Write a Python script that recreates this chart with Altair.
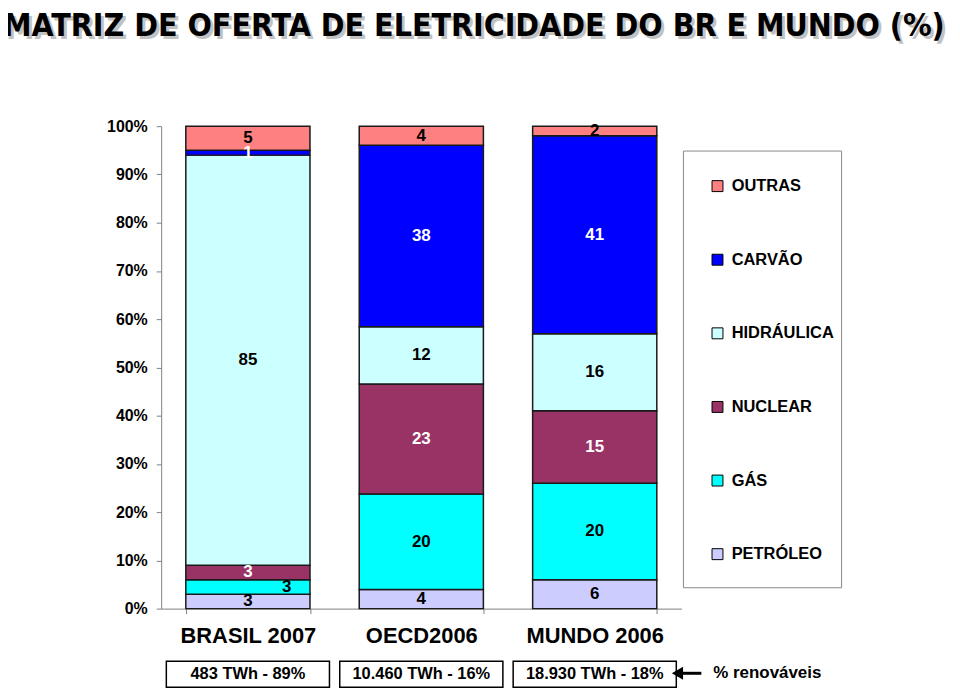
import altair as alt
import pandas as pd

categories = ["BRASIL 2007", "OECD2006", "MUNDO 2006"]
sources = ["PETRÓLEO", "GÁS", "NUCLEAR", "HIDRÁULICA", "CARVÃO", "OUTRAS"]
brasil = [3, 3, 3, 85, 1, 5]
oecd = [4, 20, 23, 12, 38, 4]
mundo = [6, 20, 15, 16, 41, 2]
totals = ["483 TWh - 89%", "10.460 TWh - 16%", "18.930 TWh - 18%"]
legend_order = ["OUTRAS", "CARVÃO", "HIDRÁULICA", "NUCLEAR", "GÁS", "PETRÓLEO"]
legend_colors = ["#FF8080", "#0000FF", "#CCFFFF", "#993366", "#00FFFF", "#CCCCFF"]
title_text = "MATRIZ DE OFERTA DE ELETRICIDADE DO BR E MUNDO (%)"
note_text = "% renováveis"

FONT = "Liberation Sans"
TFONT = "DejaVu Sans Condensed"

rows = []
for cat, vals in zip(categories, [brasil, oecd, mundo]):
    for i, (s, v) in enumerate(zip(sources, vals)):
        rows.append({"cat": cat, "src": s, "val": v, "ord": i})
df = pd.DataFrame(rows)

xenc = alt.X(
    "cat:N",
    sort=categories,
    scale=alt.Scale(paddingInner=0.284, paddingOuter=0.142),
    axis=alt.Axis(
        title=None, labelAngle=0, tickBand="extent", domainColor="#808080",
        tickColor="#808080", tickSize=5, labelFont=FONT, labelFontSize=22,
        labelFontWeight="bold", labelColor="black", labelPadding=12,
    ),
)

base = alt.Chart(df).transform_stack(
    stack="val", groupby=["cat"], as_=["y0", "y1"], offset="normalize",
    sort=[alt.SortField("ord", order="ascending")],
).transform_calculate(mid="(datum.y0 + datum.y1) / 2")

yscale = alt.Scale(domain=[0, 1], nice=False)
yaxis = alt.Axis(
    title=None, format="%", values=[i / 10 for i in range(11)], grid=False,
    domainColor="#808080", tickColor="#808080", tickSize=5, labelFont=FONT,
    labelFontSize=16, labelFontWeight="bold", labelColor="black", labelPadding=9,
)

bars = base.mark_bar(stroke="#1a1a1a", strokeWidth=1.5).encode(
    x=xenc,
    y=alt.Y("y0:Q", scale=yscale, axis=yaxis),
    y2="y1:Q",
    color=alt.Color(
        "src:N",
        scale=alt.Scale(domain=legend_order, range=legend_colors),
        legend=alt.Legend(
            title=None, orient="none", legendX=551, legendY=52, direction="vertical",
            symbolType="square", symbolSize=121, symbolStrokeColor="black",
            symbolStrokeWidth=1, labelFont=FONT, labelFontSize=16.5,
            labelFontWeight="bold", labelColor="black", rowPadding=57,
            labelOffset=6, padding=0,
        ),
    ),
)

txtcolor = alt.condition(
    alt.FieldOneOfPredicate(field="src", oneOf=["CARVÃO", "NUCLEAR"]),
    alt.value("white"), alt.value("black"),
)

labels = base.transform_filter(
    "!(datum.cat == 'BRASIL 2007' && datum.src == 'GÁS')"
).mark_text(font=FONT, fontSize=17, fontWeight="bold").encode(
    x=alt.X("cat:N", sort=categories),
    y=alt.Y("mid:Q", scale=yscale),
    text=alt.Text("val:Q"),
    color=txtcolor,
)

labels_shift = base.transform_filter(
    "datum.cat == 'BRASIL 2007' && datum.src == 'GÁS'"
).mark_text(font=FONT, fontSize=17, fontWeight="bold", dx=39).encode(
    x=alt.X("cat:N", sort=categories),
    y=alt.Y("mid:Q", scale=yscale),
    text=alt.Text("val:Q"),
    color=txtcolor,
)

legend_box = alt.Chart(pd.DataFrame({"a": [0]})).mark_rect(
    fill="white", stroke="#888888", strokeWidth=1
).encode(x=alt.value(525), x2=alt.value(684), y=alt.value(25), y2=alt.value(464))

tdf = pd.DataFrame({"cat": categories, "label": totals})
boxes = alt.Chart(tdf).mark_bar(width=164, fill="white", stroke="black", strokeWidth=1.5).encode(
    x=alt.X("cat:N", sort=categories), y=alt.value(538), y2=alt.value(564)
)
box_text = alt.Chart(tdf).mark_text(font=FONT, fontSize=16.5, fontWeight="bold", color="black").encode(
    x=alt.X("cat:N", sort=categories), y=alt.value(551), text="label:N"
)

one = pd.DataFrame({"t": [title_text]})
title_shadow = alt.Chart(one).mark_text(
    font=TFONT, fontSize=32, fontWeight="bold", align="left",
    baseline="alphabetic", color="#9a9a9a", opacity=0.6,
).encode(x=alt.value(-156), y=alt.value(-88), text="t:N")
title = alt.Chart(one).mark_text(
    font=TFONT, fontSize=32, fontWeight="bold", align="left",
    baseline="alphabetic", color="black",
).encode(x=alt.value(-159), y=alt.value(-91), text="t:N")

arrow_line = alt.Chart(pd.DataFrame({"a": [0]})).mark_rule(strokeWidth=3, color="black").encode(
    x=alt.value(522), x2=alt.value(543), y=alt.value(550)
)
arrow_head = alt.Chart(pd.DataFrame({"a": [0]})).mark_point(
    shape="triangle-left", filled=True, size=170, color="black", opacity=1
).encode(x=alt.value(519), y=alt.value(550))
note = alt.Chart(pd.DataFrame({"t": [note_text]})).mark_text(
    font=FONT, fontSize=17, fontWeight="bold", align="left", color="black"
).encode(x=alt.value(555), y=alt.value(550), text="t:N")

chart = alt.layer(
    legend_box, bars, labels, labels_shift, boxes, box_text,
    title_shadow, title, arrow_line, arrow_head, note,
).properties(
    width=523, height=485,
    autosize=alt.AutoSizeParams(type="none"),
    padding={"left": 154, "top": 117, "right": 272, "bottom": 80},
).configure_view(stroke=None)

chart.save("out.html", embed_options={"renderer": "svg", "actions": False})
